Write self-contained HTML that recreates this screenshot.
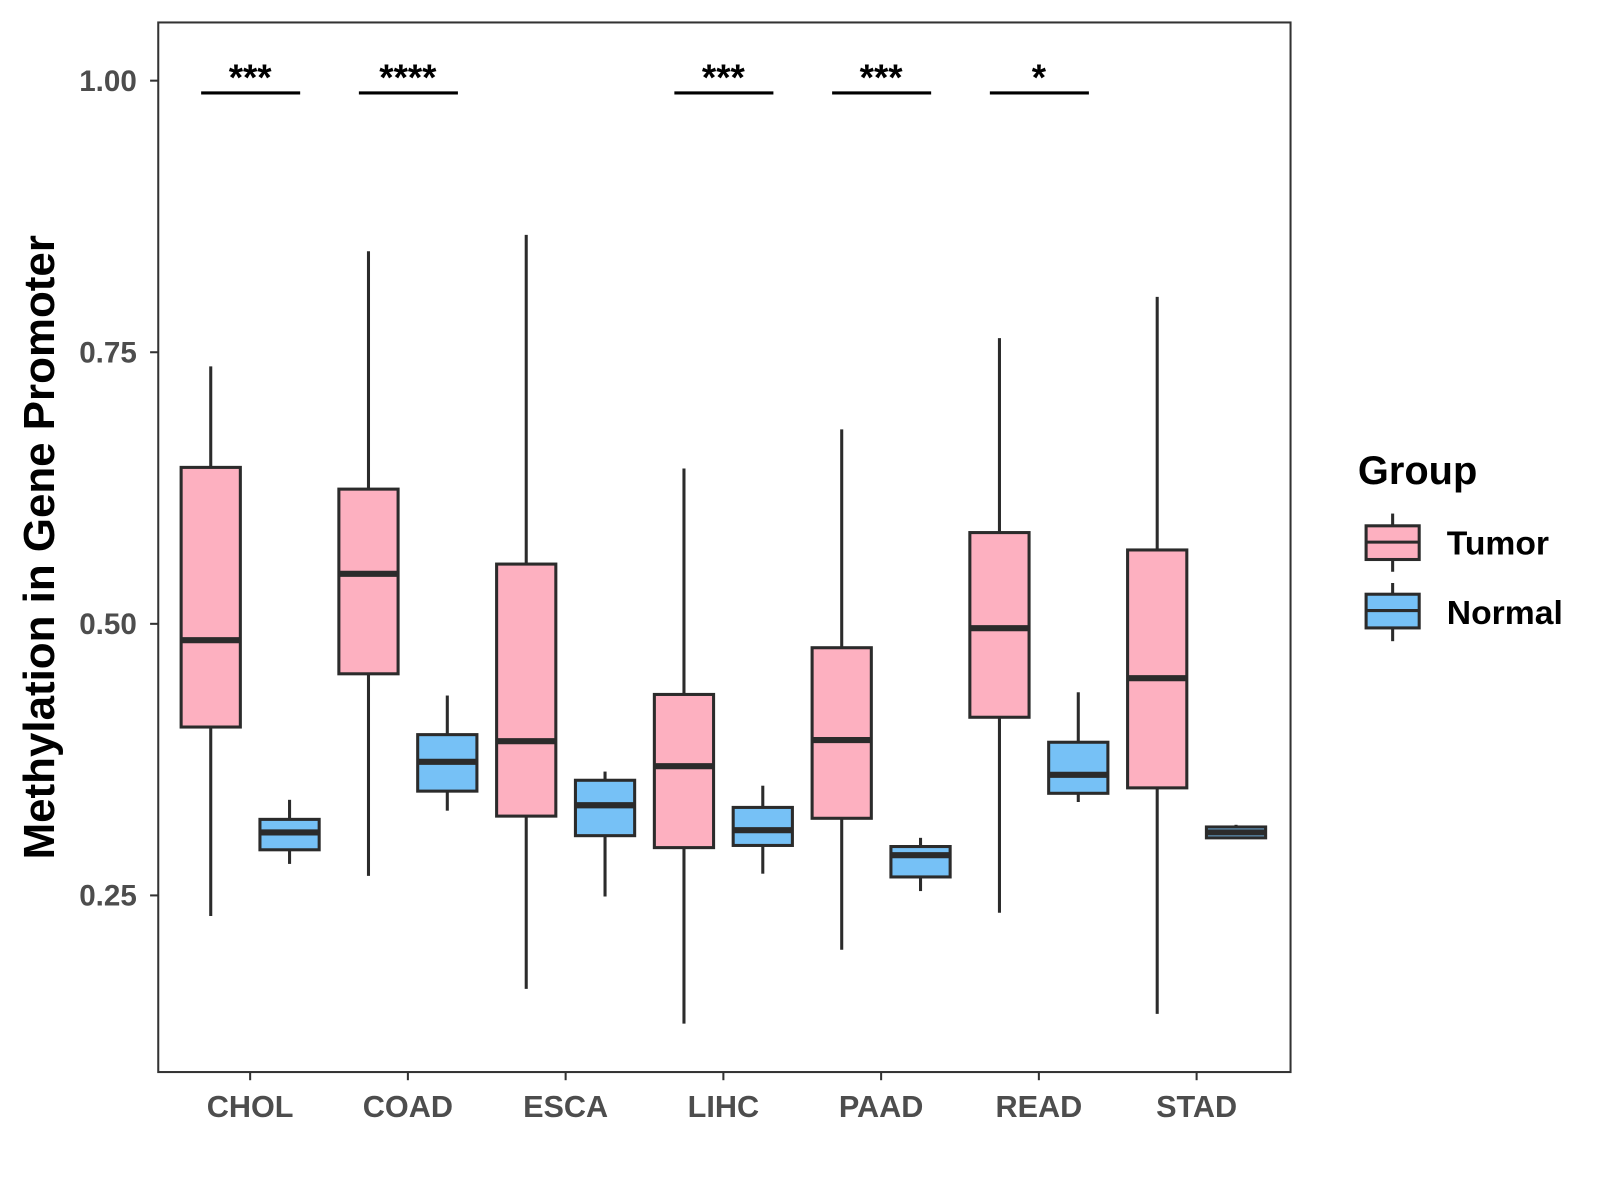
<!DOCTYPE html>
<html><head><meta charset="utf-8"><style>
body{margin:0;background:#fff}
svg{display:block}
text{font-family:"Liberation Sans",Arial,sans-serif;font-weight:bold}
</style></head><body>
<svg id="chart" width="1600" height="1200" viewBox="0 0 1600 1200" xmlns="http://www.w3.org/2000/svg">
<rect x="0" y="0" width="1600" height="1200" fill="#fff"/>
<g transform="scale(1.021)">
<g id="plot"></g>
<rect x="155" y="22" width="1109" height="1028" fill="none" stroke="#333" stroke-width="2"/>
<text transform="translate(53,536) rotate(-90)" text-anchor="middle" font-size="43" fill="#000">Methylation in Gene Promoter</text>
<g>
<text x="1330" y="474" font-size="39" fill="#000">Group</text>
<g>
<line x1="1364" y1="503" x2="1364" y2="560" stroke="#2b2b2b" stroke-width="3"/>
<rect x="1338" y="515" width="52" height="33" fill="#fdb0c0" stroke="#2b2b2b" stroke-width="3"/>
<line x1="1338" y1="531" x2="1390" y2="531" stroke="#2b2b2b" stroke-width="3"/>
<text x="1417" y="543" font-size="33" fill="#000">Tumor</text>
</g>
<g>
<line x1="1364" y1="571" x2="1364" y2="628" stroke="#2b2b2b" stroke-width="3"/>
<rect x="1338" y="582" width="52" height="33" fill="#76c1f6" stroke="#2b2b2b" stroke-width="3"/>
<line x1="1338" y1="598" x2="1390" y2="598" stroke="#2b2b2b" stroke-width="3"/>
<text x="1417" y="611" font-size="33" fill="#000">Normal</text>
</g>
</g>
</g>
</svg>
<script>
const categories=["CHOL","COAD","ESCA","LIHC","PAAD","READ","STAD"];
const tumorMin=[0.231,0.268,0.164,0.132,0.200,0.234,0.141];
const tumorQ1=[0.405,0.454,0.323,0.294,0.321,0.414,0.349];
const tumorMed=[0.485,0.546,0.392,0.369,0.393,0.496,0.450];
const tumorQ3=[0.644,0.624,0.555,0.435,0.478,0.584,0.568];
const tumorMax=[0.737,0.843,0.858,0.643,0.679,0.763,0.801];
const normalMin=[0.279,0.328,0.249,0.270,0.254,0.336,0.302];
const normalQ1=[0.292,0.346,0.305,0.296,0.267,0.344,0.303];
const normalMed=[0.308,0.373,0.333,0.310,0.287,0.361,0.308];
const normalQ3=[0.320,0.398,0.356,0.331,0.295,0.391,0.313];
const normalMax=[0.338,0.434,0.364,0.351,0.303,0.437,0.315];
const signif=["***","****","","***","***","*",""];
const yTicks=[0.25,0.50,0.75,1.00];
const yTickLabels=["0.25","0.50","0.75","1.00"];

const NS="http://www.w3.org/2000/svg";
const g=document.getElementById("plot");
function y(v){return 79+(1-v)*1064;}
function x(i){return 245+i*154.5;}
function mk(tag,attrs,parent){const e=document.createElementNS(NS,tag);for(const k in attrs)e.setAttribute(k,attrs[k]);(parent||g).appendChild(e);return e;}

yTicks.forEach((t,i)=>{
  const tk=mk("line",{x1:147,x2:155,y1:y(t),y2:y(t),stroke:"#333","stroke-width":2});
  
  
  const lb=mk("text",{x:134,y:y(t)+10,"text-anchor":"end","font-size":29,fill:"#4d4d4d"});
  lb.textContent=yTickLabels[i];
  
  
});
categories.forEach((c,i)=>{
  const tk=mk("line",{x1:x(i),x2:x(i),y1:1050,y2:1058,stroke:"#333","stroke-width":2});
  
  
  const lb=mk("text",{x:x(i),y:1094,"text-anchor":"middle","font-size":30,fill:"#4d4d4d"});
  lb.textContent=c;
  
  
});
function box(cx,mn,q1,md,q3,mx,fill,name){
  const grp=mk("g",{});
  
  
  mk("line",{x1:cx,x2:cx,y1:y(mx),y2:y(q3),stroke:"#2b2b2b","stroke-width":3},grp);
  mk("line",{x1:cx,x2:cx,y1:y(q1),y2:y(mn),stroke:"#2b2b2b","stroke-width":3},grp);
  mk("rect",{x:cx-29,y:y(q3),width:58,height:Math.max(y(q1)-y(q3),1),fill:fill,stroke:"#2b2b2b","stroke-width":3},grp);
  mk("line",{x1:cx-29,x2:cx+29,y1:y(md),y2:y(md),stroke:"#2b2b2b","stroke-width":6},grp);
}
categories.forEach((c,i)=>{
  box(x(i)-38.6,tumorMin[i],tumorQ1[i],tumorMed[i],tumorQ3[i],tumorMax[i],"#fdb0c0","box-tumor-"+c.toLowerCase());
  box(x(i)+38.6,normalMin[i],normalQ1[i],normalMed[i],normalQ3[i],normalMax[i],"#76c1f6","box-normal-"+c.toLowerCase());
  if(signif[i]){
    const l=mk("line",{x1:x(i)-48,x2:x(i)+49,y1:91,y2:91,stroke:"#000","stroke-width":3});
    
    
    const t=mk("text",{x:x(i),y:88,"text-anchor":"middle","font-size":36,fill:"#000"});
    t.textContent=signif[i];
    
    
  }
});
</script>
</body></html>
